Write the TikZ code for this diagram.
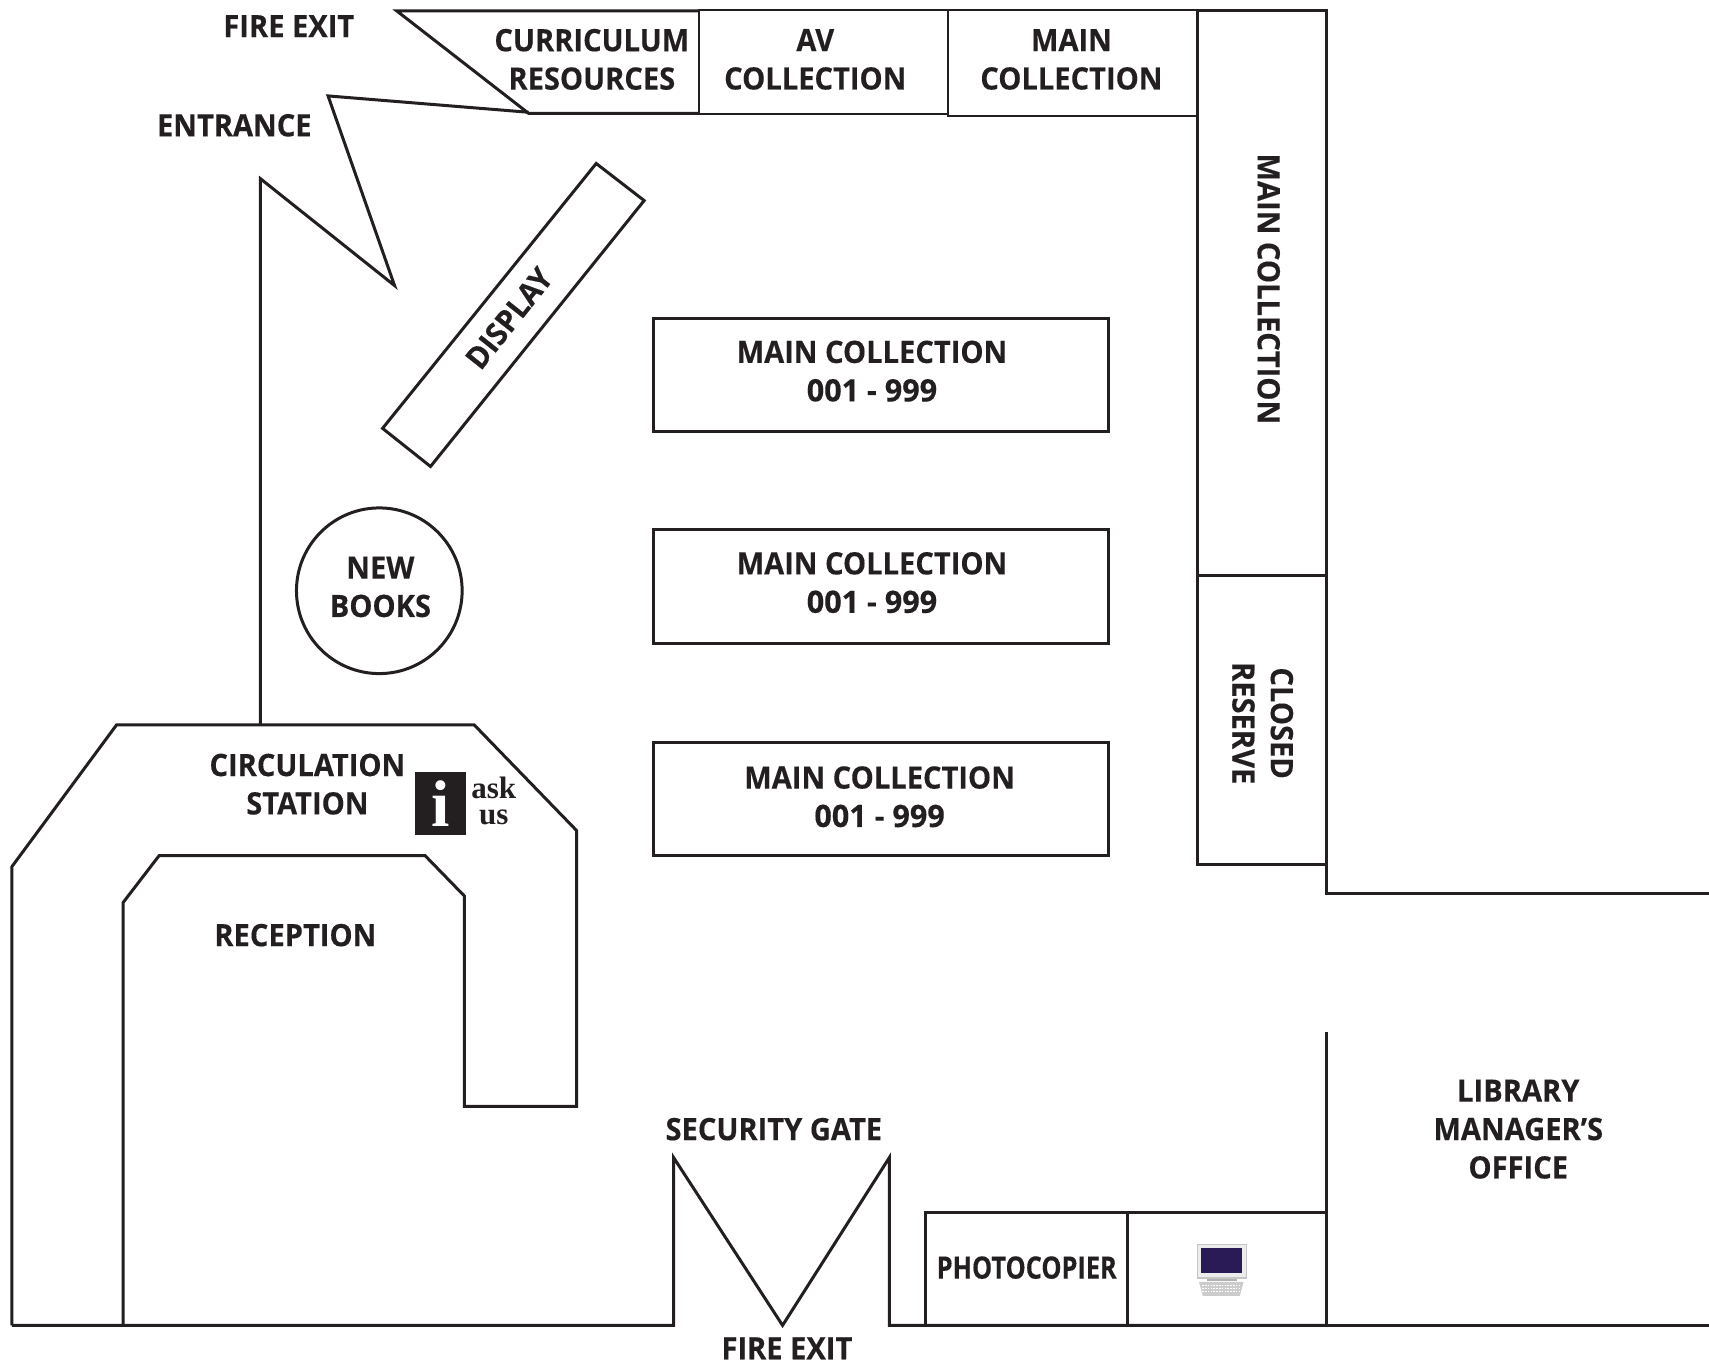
\documentclass[tikz,border=0pt]{standalone}
\usepackage{fontspec}
\setmainfont{Open Sans}[BoldFont={Open Sans Bold},FakeStretch=0.945,BoldFeatures={FakeBold=0.3}]
\newfontfamily\serifask{Liberation Serif}
\definecolor{ink}{HTML}{231F20}
\definecolor{screen}{HTML}{2A1A55}
\tikzset{
  x=0.545pt,y=-0.545pt,
  wall/.style={draw=ink,line width=1.5pt},
  thinwall/.style={draw=ink,line width=1.0pt},
  lab/.style={text=ink,font=\bfseries\fontsize{15.4}{19.2}\selectfont,align=center,inner sep=0pt},
}
\newcommand{\numrange}{\scalebox{1.05}[1]{001 - 999}}
\begin{document}
\begin{tikzpicture}
\useasboundingbox (0,0) rectangle (1568,1254.3);
% top wall and shelves
\draw[thinwall] (641,9) rectangle (870,105);
\draw[thinwall] (870,9) rectangle (1099,106);
\draw[wall] (641,10) -- (364,10) -- (485,104) -- (641,104);
\draw[wall] (485,103) -- (301,88) -- (362,262) -- (239,164) -- (239,665);
% right column
\draw[wall] (1099,10) rectangle (1217,528);
\draw[wall] (1099,528) rectangle (1217,793);
\draw[wall] (1217,793) -- (1217,820) -- (1568,820);
\draw[wall] (1217,947) -- (1217,1216) -- (1568,1216);
% bottom wall and gate
\draw[wall] (11,1216) -- (618,1216) -- (618,1062) -- (718,1216) -- (816,1062) -- (816,1216) -- (1217,1216);
\draw[wall] (849,1216) -- (849,1112) -- (1217,1112);
\draw[wall] (1034,1112) -- (1034,1216);
% circulation
\draw[wall] (11,1216) -- (11,795) -- (107,665) -- (435,665) -- (529,762) -- (529,1015) -- (426,1015) -- (426,822) -- (390,785) -- (146,785) -- (113,828) -- (113,1216);
% display, new books, stacks
\draw[wall] (547,150) -- (591,184) -- (395,428) -- (351,393) -- cycle;
\draw[wall] (348,542) circle (76);
\draw[wall] (600,292) rectangle (1017,396);
\draw[wall] (600,486) rectangle (1017,590);
\draw[wall] (600,681) rectangle (1017,785);
% labels
\node[lab] (fire1) at (265,24) {FIRE EXIT};
\node[lab] (entrance) at (215,115) {ENTRANCE};
\node[lab] (curr) at (543,54.5) {CURRICULUM\\RESOURCES};
\node[lab] (av) at (748,54.5) {AV\\COLLECTION};
\node[lab] (maintop) at (983,54.5) {MAIN\\COLLECTION};
\node[lab,rotate=-90] (mainright) at (1164,265) {MAIN COLLECTION};
\node[lab,rotate=-90] (closed) at (1158.5,663.5) {CLOSED\\RESERVE};
\node[lab,rotate=51.5] (display) at (467,292) {DISPLAY};
\node[lab] (stack1) at (800,340.5) {MAIN COLLECTION\\\numrange};
\node[lab] (stack2) at (800,534.5) {MAIN COLLECTION\\\numrange};
\node[lab] (stack3) at (807,731) {MAIN COLLECTION\\\numrange};
\node[lab] (newbooks) at (349,538.5) {NEW\\BOOKS};
\node[lab] (circ) at (282,719.5) {CIRCULATION\\STATION};
\node[lab] (reception) at (271,858) {RECEPTION};
\node[lab] (gate) at (710,1036) {SECURITY GATE};
\node[lab] (fire2) at (722,1237) {FIRE EXIT};
\node[lab] (photo) at (942,1163) {\scalebox{0.87}[1]{PHOTOCOPIER}};
\node[lab] (office) at (1393,1036) {LIBRARY\\MANAGER’S\\OFFICE};
% ask us sign
\fill[ink] (381,708) rectangle (428,766);
\node[text=white,font=\serifask\bfseries\fontsize{33}{33}\selectfont,inner sep=0pt] (info) at (404,737) {i};
\node[text=ink,font=\serifask\bfseries\fontsize{15.5}{13}\selectfont,align=center,inner sep=0pt] (ask) at (453,735) {ask\\us};
% computer
\fill[gray!45] (1098,1141) rectangle (1144,1173);
\fill[gray!15] (1099,1142) rectangle (1143,1172);
\fill[screen] (1102,1145) rectangle (1139.5,1168);
\fill[gray!60] (1107,1173) rectangle (1135,1175.5);
\fill[gray!40] (1100,1176) -- (1141,1176) -- (1137.6,1189) -- (1103.6,1189) -- cycle;
\foreach \yy in {1179,1182,1185}
  \draw[white,line width=0.4pt,dash pattern=on 0.8pt off 0.6pt] (1103,\yy) -- (1138,\yy);
\end{tikzpicture}
\end{document}
